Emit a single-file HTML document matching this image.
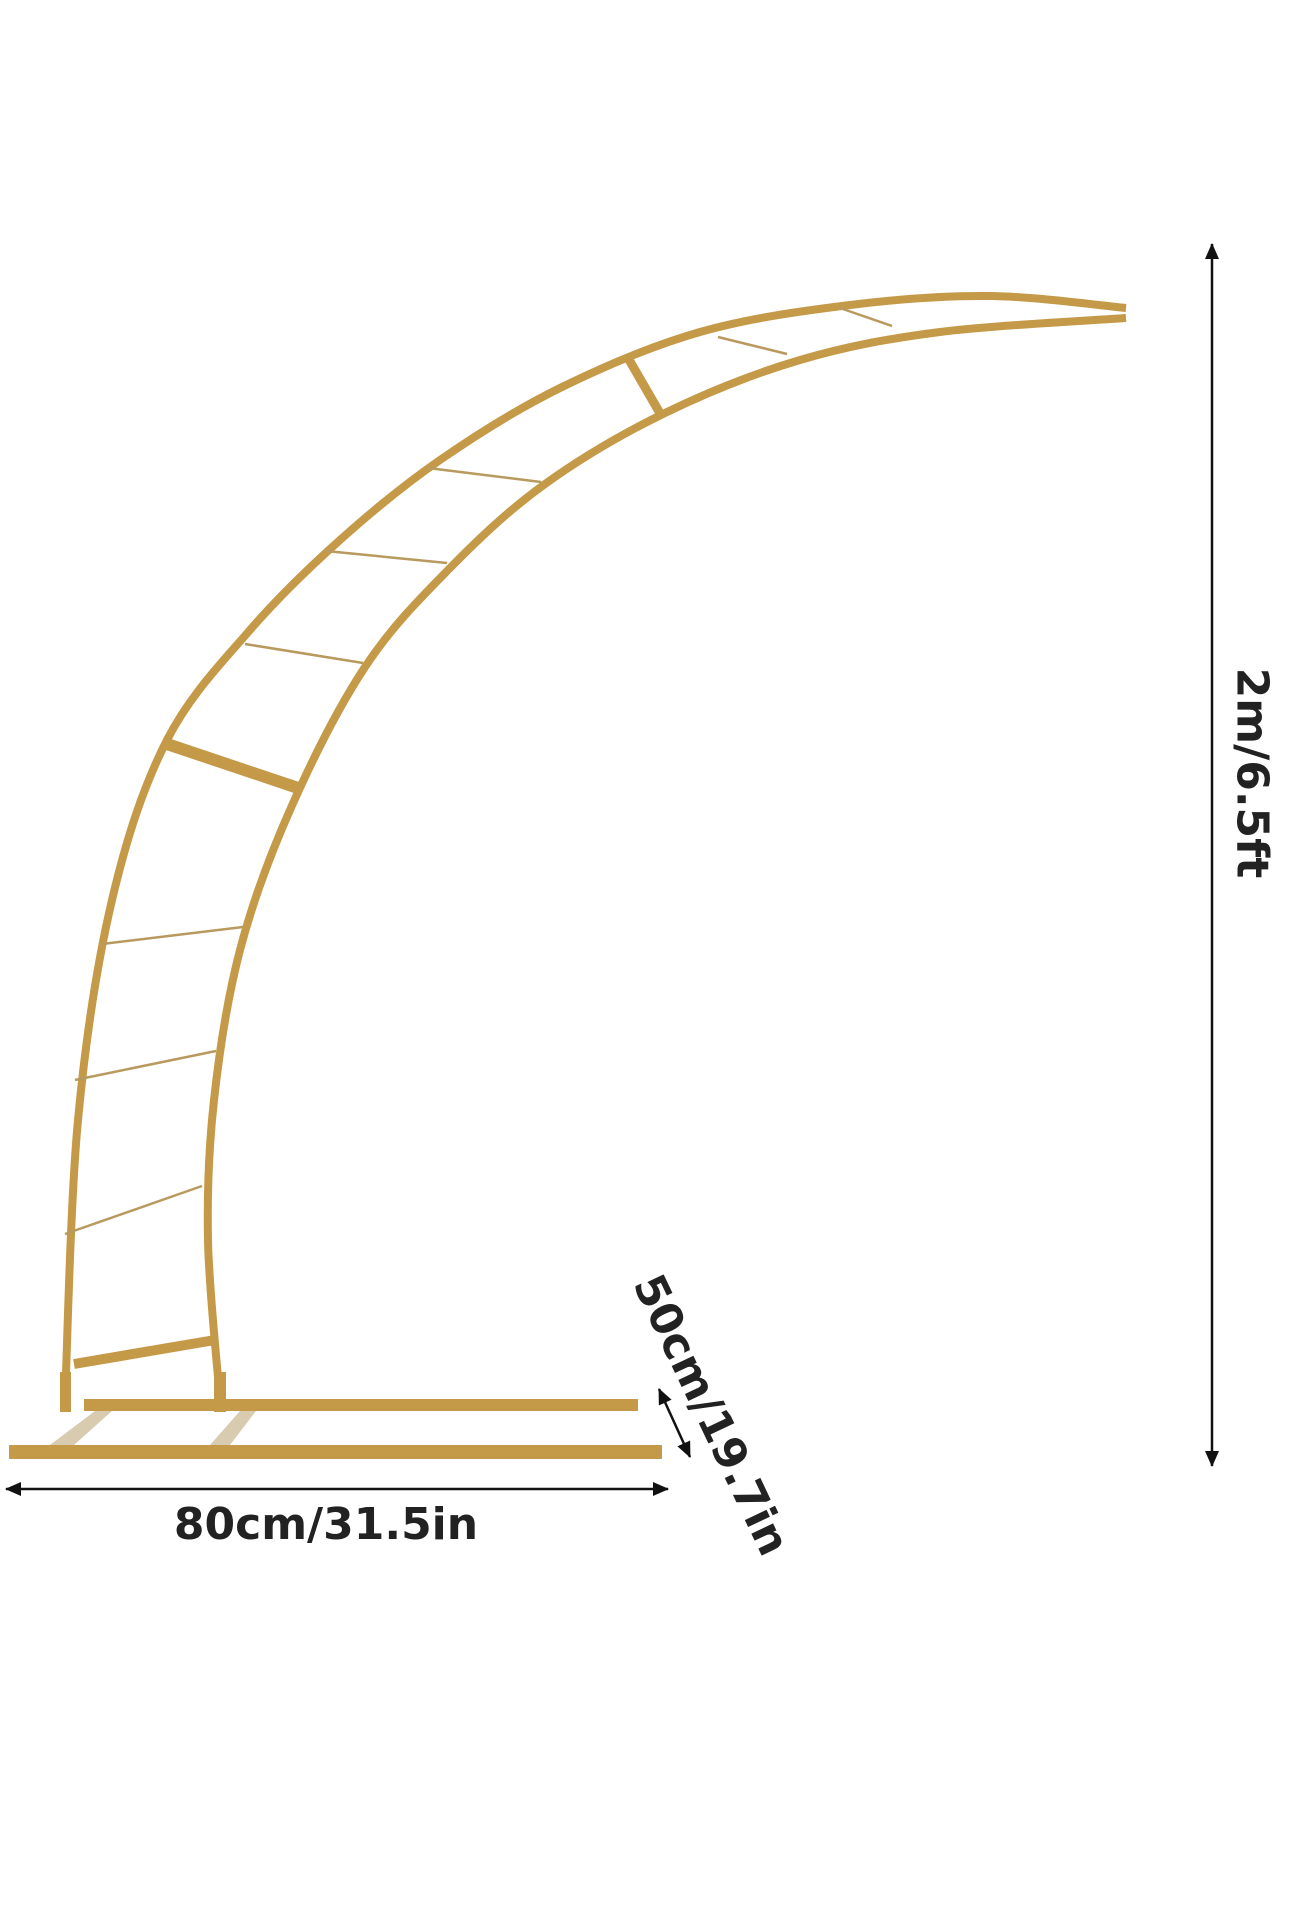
<!DOCTYPE html>
<html><head><meta charset="utf-8"><style>
html,body{margin:0;padding:0;background:#fff;}
svg{display:block}
text{font-family:"DejaVu Sans","Liberation Sans",sans-serif;fill:#222;font-weight:bold;}
</style></head><body>
<svg id="s" width="1290" height="1925" viewBox="0 0 1290 1925">
<defs>
<marker id="ah" markerWidth="16" markerHeight="14" refX="15" refY="7" orient="auto-start-reverse" markerUnits="userSpaceOnUse"><path d="M0,0 L16,7 L0,14 Z" fill="#111"/></marker>
</defs>
<g>
<rect x="84" y="1399" width="554" height="12" fill="#c49a48"/>
<rect x="9" y="1445" width="653" height="14" fill="#c49a48"/>
<polygon points="95,1411 112,1411 74,1445 50,1445" fill="#d8cbb0"/>
<polygon points="240,1411 256,1411 230,1445 210,1445" fill="#d8cbb0"/>
<rect x="60" y="1372" width="11" height="40" fill="#c49a48"/>
<rect x="214" y="1372" width="12" height="40" fill="#c49a48"/>
</g>
<g id="frame" fill="none" stroke="#c49a48"></g>
<line x1="1212" y1="244" x2="1212" y2="1466" stroke="#111" stroke-width="2.5" marker-end="url(#ah)" marker-start="url(#ah)"/>
<text transform="translate(1252,773) rotate(90)" text-anchor="middle" dominant-baseline="central" font-size="44">2m/6.5ft</text>
<line x1="6" y1="1489" x2="668" y2="1489" stroke="#111" stroke-width="2.5" marker-end="url(#ah)" marker-start="url(#ah)"/>
<text x="326" y="1539" text-anchor="middle" font-size="44">80cm/31.5in</text>
<line x1="659" y1="1389" x2="690" y2="1457" stroke="#111" stroke-width="2.5" marker-end="url(#ah)" marker-start="url(#ah)"/>
<text transform="translate(711,1415) rotate(64.6)" text-anchor="middle" dominant-baseline="central" font-size="44">50cm/19.7in</text>
</svg>
<script>
const outerPts=[[65,1400],[78,1120],[112,900],[167,740],[250,630],[340,540],[440,460],[560,388],[700,332],[850,305],[990,296],[1126,308]];
const innerPts=[[220,1400],[208,1240],[214,1100],[240,950],[290,810],[365,667],[450,568],[545,484],[665,413],[800,360],[940,332],[1126,318]];
const rungs=[[102,944,243,927],[75,1080,216,1051],[65,1234,202,1186],[245,644,363,663],[326,551,447,563],[428,468,541,482],[718,337,787,354],[840,308,892,326]];
const ns='http://www.w3.org/2000/svg';
const g=document.getElementById('frame');
function cr(p){let d='M'+p[0][0]+' '+p[0][1];for(let i=0;i<p.length-1;i++){const a=p[Math.max(i-1,0)],b=p[i],c=p[i+1],e=p[Math.min(i+2,p.length-1)];
d+=' C'+(b[0]+(c[0]-a[0])/6)+' '+(b[1]+(c[1]-a[1])/6)+','+(c[0]-(e[0]-b[0])/6)+' '+(c[1]-(e[1]-b[1])/6)+','+c[0]+' '+c[1];}return d;}
function path(pts,name){const el=document.createElementNS(ns,'path');el.setAttribute('d',cr(pts));el.setAttribute('stroke-width','8');


g.appendChild(el);}
path(outerPts,'outer-arc');path(innerPts,'inner-arc');
rungs.forEach(r=>{const l=document.createElementNS(ns,'line');l.setAttribute('x1',r[0]);l.setAttribute('y1',r[1]);l.setAttribute('x2',r[2]);l.setAttribute('y2',r[3]);
l.setAttribute('stroke','#b8995e');l.setAttribute('stroke-width','2.5');


g.appendChild(l);});
function brace(x1,y1,x2,y2,w,name){const l=document.createElementNS(ns,'line');l.setAttribute('x1',x1);l.setAttribute('y1',y1);l.setAttribute('x2',x2);l.setAttribute('y2',y2);l.setAttribute('stroke-width',w);


g.appendChild(l);}
brace(74,1364,215,1340,10,'lower-brace');
brace(167,744,298,788,12,'mid-joint-brace');
brace(628,358,661,415,9,'upper-joint-brace');
</script>
</body></html>
